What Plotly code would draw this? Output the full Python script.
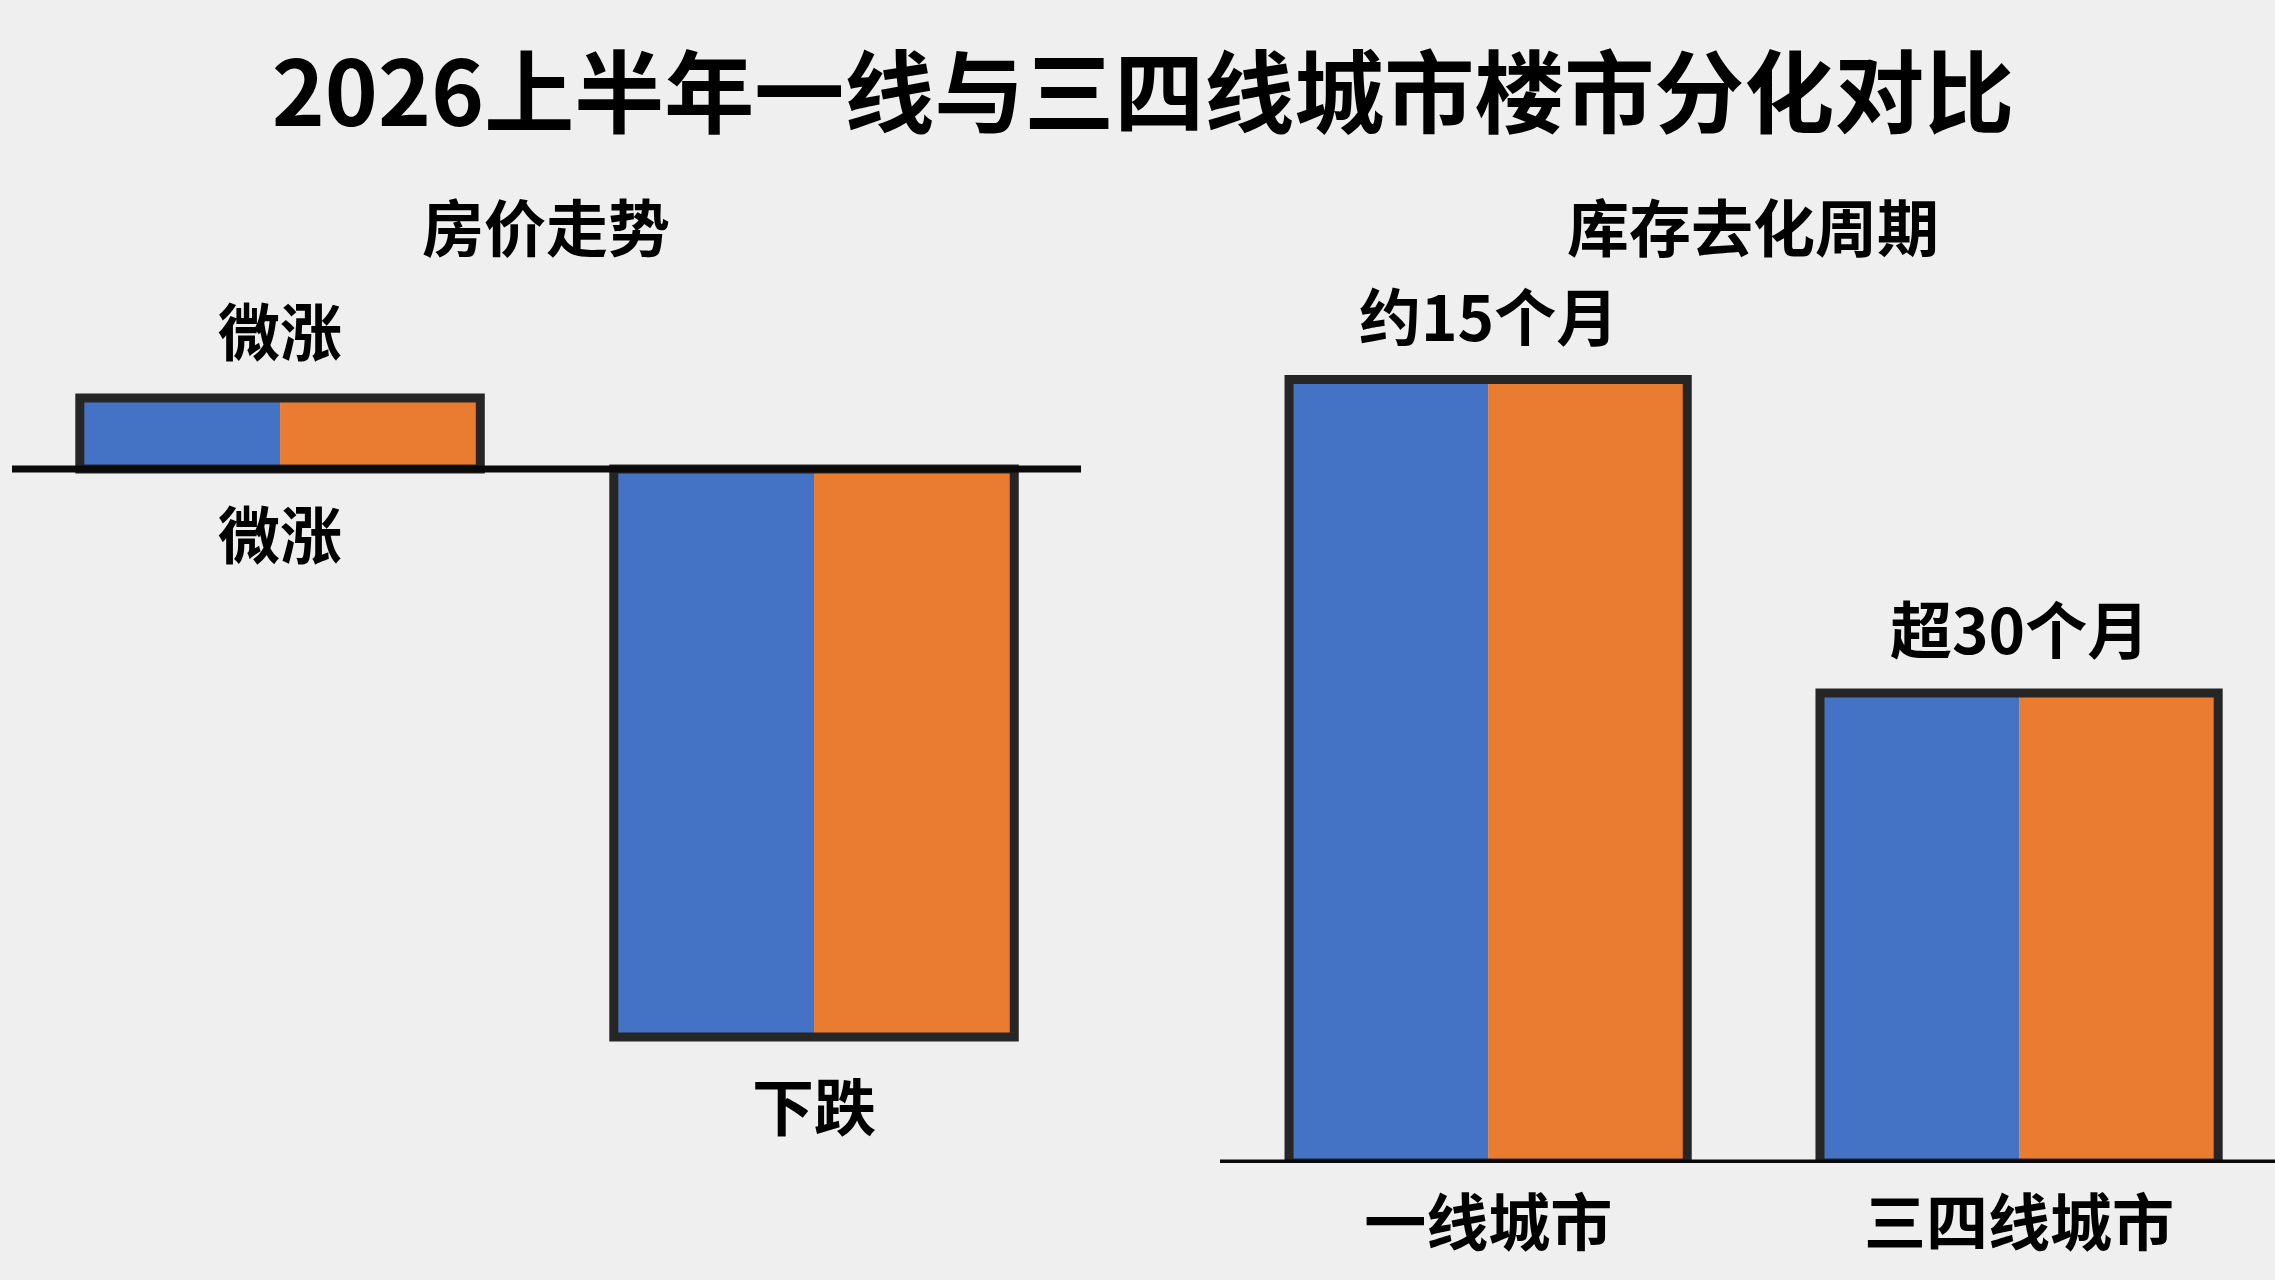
import plotly.graph_objects as go

# ---------------- data ----------------
title_text = "2026上半年一线与三四线城市楼市分化对比"
price_panel_title = "房价走势"
stock_panel_title = "库存去化周期"

price_positions = [0, 1]
price_values = [1.0, -8.0]              # relative bar heights (up = 微涨, down = 下跌)
price_value_labels = ["微涨", "下跌"]
price_under_label = "微涨"

stock_categories = ["一线城市", "三四线城市"]
stock_positions = [0, 1]
stock_values = [15.0, 9.0]              # drawn bar heights
stock_value_labels = ["约15个月", "超30个月"]

# ---------------- style ----------------
W, H = 2275, 1280
BG = "#efefef"
BLUE = "#4472C4"
ORANGE = "#E97C30"
OUTLINE = "#262626"
FONT = "Noto Sans CJK SC"
HALF = 0.375

def bar_set(xs, ys, xa, ya):
    traces = []
    traces.append(go.Bar(x=xs, y=ys, width=HALF, offset=-HALF, marker=dict(color=BLUE, line=dict(width=0)),
                         xaxis=xa, yaxis=ya, showlegend=False, hoverinfo="skip"))
    traces.append(go.Bar(x=xs, y=ys, width=HALF, offset=0, marker=dict(color=ORANGE, line=dict(width=0)),
                         xaxis=xa, yaxis=ya, showlegend=False, hoverinfo="skip"))
    traces.append(go.Bar(x=xs, y=ys, width=2 * HALF, offset=-HALF,
                         marker=dict(color="rgba(0,0,0,0)", line=dict(width=9, color=OUTLINE)),
                         xaxis=xa, yaxis=ya, showlegend=False, hoverinfo="skip"))
    return traces

fig = go.Figure()
for t in bar_set(price_positions, price_values, "x", "y"):
    fig.add_trace(t)
for t in bar_set(stock_positions, stock_values, "x2", "y2"):
    fig.add_trace(t)

axis_common = dict(showgrid=False, zeroline=False, showline=False, ticks="", fixedrange=True)

fig.update_layout(
    width=W, height=H,
    margin=dict(l=0, r=0, t=0, b=0),
    paper_bgcolor=BG, plot_bgcolor="rgba(0,0,0,0)",
    barmode="overlay",
    font=dict(family=FONT, color="#000000"),
    title=dict(text=title_text, x=0.5024, y=1 - 94 / H, xanchor="center", yanchor="middle",
               font=dict(family=FONT, size=90, weight="bold", color="#000000")),
    xaxis=dict(domain=[12 / W, 1081 / W], range=[-0.502, 1.5], showticklabels=False, **axis_common),
    yaxis=dict(domain=[0, 1], range=[-(H - 469) / 71, 469 / 71], showticklabels=False, **axis_common),
    xaxis2=dict(domain=[1220 / W, 1.0], range=[-0.505, 1.482], anchor="y2",
                tickmode="array", tickvals=stock_positions, ticktext=stock_categories,
                tickfont=dict(family=FONT, size=62, weight="bold", color="#000000"),
                ticklabelstandoff=20, **axis_common),
    yaxis2=dict(domain=[1 - 1163 / H, 1.0], range=[0, 1163 / 52.23], anchor="x2",
                showticklabels=False, **axis_common),
)

# baselines
fig.add_shape(type="line", xref="x domain", yref="y", x0=0, x1=1, y0=0, y1=0,
              line=dict(color="#0a0a0a", width=7), layer="above")
fig.add_shape(type="line", xref="x2 domain", yref="y2", x0=0, x1=1, y0=0, y1=0,
              line=dict(color="#0a0a0a", width=7), layer="above")

lab_font = dict(family=FONT, size=62, weight="bold", color="#000000")

# panel titles
fig.add_annotation(text=price_panel_title, xref="paper", yref="paper", x=546 / W, y=1 - 225 / H,
                   xanchor="center", yanchor="middle", showarrow=False, font=lab_font)
fig.add_annotation(text=stock_panel_title, xref="paper", yref="paper", x=1753 / W, y=1 - 225 / H,
                   xanchor="center", yanchor="middle", showarrow=False, font=lab_font)

# price value labels
for xv, yv, lab in zip(price_positions, price_values, price_value_labels):
    shift = 69 if yv > 0 else -67
    fig.add_annotation(text=lab, xref="x", yref="y", x=xv, y=yv, yshift=shift,
                       xanchor="center", yanchor="middle", showarrow=False, font=lab_font)
fig.add_annotation(text=price_under_label, xref="x", yref="y", x=price_positions[0], y=0, yshift=-63,
                   xanchor="center", yanchor="middle", showarrow=False, font=lab_font)

# stock value labels
for xv, yv, lab in zip(stock_positions, stock_values, stock_value_labels):
    fig.add_annotation(text=lab, xref="x2", yref="y2", x=xv, y=yv, yshift=66,
                       xanchor="center", yanchor="middle", showarrow=False, font=lab_font)

fig.write_html("out.html")
